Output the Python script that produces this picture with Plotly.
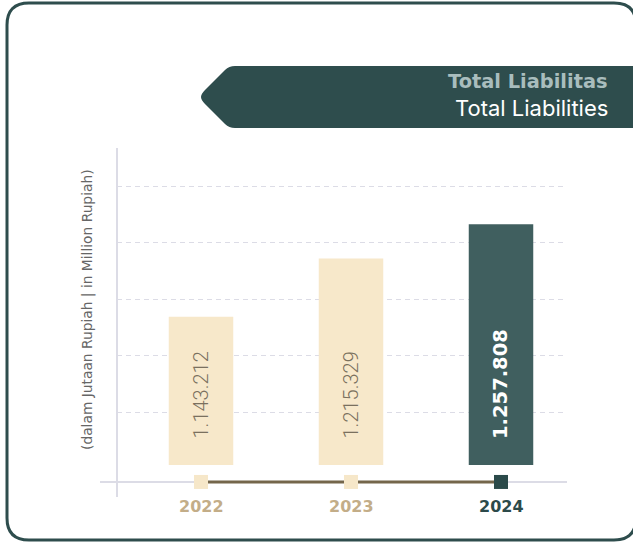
import plotly.graph_objects as go

# Data
years = ["2022", "2023", "2024"]
liabilities = [1143212, 1215329, 1257808]
value_labels = ["1.143.212", "1.215.329", "1.257.808"]

# Styling
bar_colors = ["#f7e8ca", "#f7e8ca", "#405f5f"]
marker_colors = ["#f6e7c9", "#f6e7c9", "#2b4a4a"]
year_colors = ["#c3ad88", "#c3ad88", "#2c4a4a"]
label_colors = ["#7a705e", "#7a705e", "#ffffff"]
dark = "#2e4d4d"
grid = "#dcdce6"

W, H = 633, 542
L, R, T, B = 117, 567, 148, 497          # plot area in pixels
bar_base = 960000                        # truncated baseline of the bars
timeline_val = 939000                    # level of the year timeline
y_range = [920400, 1352000]
grid_vals = [1025000, 1095000, 1165000, 1235000, 1305000]


def px(x):
    return (x - L) / (R - L)


def py(y):
    return (B - y) / (B - T)


fig = go.Figure()

fig.add_trace(go.Bar(
    x=list(range(len(years))),
    y=[v - bar_base for v in liabilities],
    base=bar_base,
    width=0.43,
    marker=dict(color=bar_colors, line=dict(width=0)),
    hoverinfo="skip",
))

# timeline connecting the years
fig.add_trace(go.Scatter(
    x=list(range(len(years))),
    y=[timeline_val] * len(years),
    mode="lines",
    line=dict(color="#74664b", width=3),
    hoverinfo="skip",
))
fig.add_trace(go.Scatter(
    x=list(range(len(years))),
    y=[timeline_val] * len(years),
    mode="markers",
    marker=dict(symbol="square", size=14, color=marker_colors, line=dict(width=0)),
    cliponaxis=False,
    hoverinfo="skip",
))

annotations = []
for i, (lab, col) in enumerate(zip(value_labels, label_colors)):
    bold = i == 2
    annotations.append(dict(
        x=i, y=bar_base, xref="x", yref="y",
        text=f"<b>{lab}</b>" if bold else lab,
        textangle=-90, showarrow=False,
        xanchor="center", yanchor="bottom", yshift=24,
        font=dict(family="DejaVu Sans" if bold else "Roboto", size=19.5 if bold else 20,
                  color=col, weight=700 if bold else 300),
    ))
for i, (yr, col) in enumerate(zip(years, year_colors)):
    annotations.append(dict(
        x=i, y=timeline_val, xref="x", yref="y",
        text=f"<b>{yr}</b>", showarrow=False,
        xanchor="center", yanchor="middle", yshift=-25,
        font=dict(family="DejaVu Sans", size=16, color=col),
    ))

annotations.append(dict(
    x=px(87), y=py(310), xref="paper", yref="paper",
    text="(dalam Jutaan Rupiah | in Million Rupiah)",
    textangle=-90, showarrow=False, xanchor="center", yanchor="middle",
    font=dict(family="DejaVu Sans", size=13.8, color="#666666"),
))
annotations.append(dict(
    x=px(610), y=py(82), xref="paper", yref="paper",
    text="<b>Total Liabilitas</b>", showarrow=False,
    xanchor="right", yanchor="middle",
    font=dict(family="DejaVu Sans", size=19.4, color="#a9bdbd"),
))
annotations.append(dict(
    x=px(610), y=py(108), xref="paper", yref="paper",
    text="Total Liabilities", showarrow=False,
    xanchor="right", yanchor="middle",
    font=dict(family="Inter", size=22, color="#ffffff"),
))


def path(points):
    return " ".join(points)


def P(cmd, *xy):
    out = []
    for k in range(0, len(xy), 2):
        out.append(f"{px(xy[k]):.5f},{py(xy[k + 1]):.5f}")
    return cmd + " " + " ".join(out)


# card outline
x0, y0, x1, y1, r = 7, 3, 636, 540, 22
card = path([
    P("M", x0 + r, y0), P("L", x1 - r, y0), P("Q", x1, y0, x1, y0 + r),
    P("L", x1, y1 - r), P("Q", x1, y1, x1 - r, y1),
    P("L", x0 + r, y1), P("Q", x0, y1, x0, y1 - r),
    P("L", x0, y0 + r), P("Q", x0, y0, x0 + r, y0), "Z",
])

# title banner
banner = path([
    P("M", 650, 66), P("L", 235, 66), P("Q", 229, 66, 225, 70),
    P("L", 205, 90), P("Q", 201, 94, 201, 97), P("Q", 201, 100, 205, 104),
    P("L", 225, 124), P("Q", 229, 128, 235, 128), P("L", 650, 128), "Z",
])

shapes = [
    dict(type="path", path=card, xref="paper", yref="paper",
         line=dict(color=dark, width=3), fillcolor="rgba(0,0,0,0)", layer="below"),
    dict(type="path", path=banner, xref="paper", yref="paper",
         line=dict(width=0), fillcolor=dark, layer="below"),
    # axis cross
    dict(type="line", xref="paper", yref="paper", x0=0, x1=0, y0=0, y1=1,
         line=dict(color=grid, width=2), layer="below"),
    dict(type="line", xref="paper", yref="y", x0=px(100), x1=1,
         y0=timeline_val, y1=timeline_val,
         line=dict(color=grid, width=2), layer="below"),
]

fig.update_layout(
    width=W, height=H,
    margin=dict(l=L, r=W - R, t=T, b=H - B, pad=0),
    paper_bgcolor="white", plot_bgcolor="white",
    showlegend=False,
    xaxis=dict(range=[-0.56, 2.44], showgrid=False, zeroline=False, showline=False,
               showticklabels=False, ticks="", fixedrange=True),
    yaxis=dict(range=y_range, tickvals=grid_vals, showgrid=True, gridcolor=grid,
               gridwidth=1, griddash="5px,4px", zeroline=False, showline=False,
               showticklabels=False, ticks="", fixedrange=True),
    annotations=annotations,
    shapes=shapes,
)

fig.write_html("out.html")
